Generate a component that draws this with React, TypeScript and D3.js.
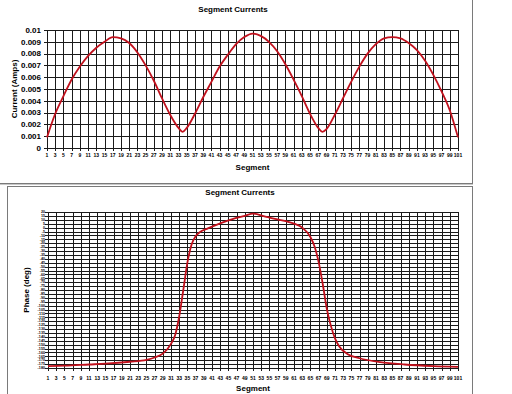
import React from 'react';
import * as d3 from 'd3';

const W = 512;
const H = 394;

// ---- data ----
const currentSegments = [1, 3, 5, 7, 9, 11, 13, 15, 17, 19, 21, 23, 25, 27, 29, 31, 33, 34, 35, 37, 39, 41, 43, 45, 47, 49, 51,
  53, 55, 57, 59, 61, 63, 65, 67, 68, 69, 71, 73, 75, 77, 79, 81, 83, 85, 87, 89, 91, 93, 95, 97, 99, 101];
const currentValues = [0.0009, 0.0029, 0.0044, 0.0058, 0.0069, 0.0078, 0.0085, 0.0090, 0.0094, 0.0093, 0.0089, 0.0081, 0.0070,
  0.0057, 0.0042, 0.0028, 0.0017, 0.00137, 0.0017, 0.0029, 0.0043, 0.0056, 0.0069, 0.0079, 0.0088, 0.0094, 0.0097,
  0.0095, 0.0090, 0.0082, 0.0071, 0.0058, 0.0044, 0.0029, 0.0017, 0.00137, 0.0016, 0.0028, 0.0042, 0.0056, 0.0069,
  0.0080, 0.0088, 0.0093, 0.0094, 0.0093, 0.0089, 0.0083, 0.0074, 0.0062, 0.0048, 0.0032, 0.0009];

const phaseSegments = [1, 5, 11, 15, 21, 25, 27, 29, 31, 32, 33, 34, 35, 36, 37, 38, 40, 43, 46, 49, 51,
  54, 57, 61, 63, 65, 66, 67, 68, 69, 70, 71, 72, 74, 77, 82, 88, 95, 101];
const phaseValues = [-177.5, -177, -175.5, -174.5, -172, -169.5, -166.5, -161.5, -149, -138, -114, -80, -45, -22, -11, -6, -1, 5.5,
  11, 15, 18, 14, 10.5, 5, 0, -12, -24, -44, -72, -104, -126, -142, -152, -162, -167.5, -172.5, -175.5, -177.5, -178.5];

const currentTicks = [0, 0.001, 0.002, 0.003, 0.004, 0.005, 0.006, 0.007, 0.008, 0.009, 0.01];
const currentTickLabels = ['0', '0.001', '0.002', '0.003', '0.004', '0.005', '0.006', '0.007', '0.008', '0.009', '0.01'];
const phaseTicks = [20, 15, 10, 5, 0, -5, -10, -15, -20, -25, -30, -35, -40, -45, -50, -55, -60, -65, -70, -75, -80,
  -85, -90, -95, -100, -105, -110, -115, -120, -125, -130, -135, -140, -145, -150, -155, -160, -165, -170, -175, -180];
const segmentTicks = [1, 3, 5, 7, 9, 11, 13, 15, 17, 19, 21, 23, 25, 27, 29, 31, 33, 35, 37, 39, 41, 43, 45, 47, 49, 51,
  53, 55, 57, 59, 61, 63, 65, 67, 69, 71, 73, 75, 77, 79, 81, 83, 85, 87, 89, 91, 93, 95, 97, 99, 101];

const FONT = 'Liberation Sans, Arial, sans-serif';
const GRID = '#1a1a1a';
const LINE = '#c0101c';

type PanelProps = {
  x0: number; x1: number; y0: number; y1: number;
  domain: [number, number];
  ticks: number[];
  labels: string[];
  yFont: number;
  yLabelX: number;
  segs: number[];
  vals: number[];
  title: string; titleX: number; titleY: number;
  yTitle: string; yTitleX: number;
  xLabelY: number; xTitleY: number;
};

function Panel(p: PanelProps) {
  const x = d3.scaleLinear().domain([1, 101]).range([p.x0, p.x1]);
  const y = d3.scaleLinear().domain(p.domain).range([p.y1, p.y0]);
  const line = d3.line<number>()
    .x((_, i) => x(p.segs[i]))
    .y((d) => y(d))
    .curve(d3.curveMonotoneX);
  const yMid = (p.y0 + p.y1) / 2;
  const xMid = (p.x0 + p.x1) / 2;
  return (
    <g fontFamily={FONT} fontWeight="bold" fill="#000">
      <text x={p.titleX} y={p.titleY} fontSize={8} textAnchor="middle">{p.title}</text>
      {p.ticks.map((t, i) => (
        <g key={'h' + i}>
          <line x1={p.x0 - 3} x2={p.x1} y1={Math.round(y(t)) + 0.5} y2={Math.round(y(t)) + 0.5} stroke={GRID} strokeWidth={1} />
          <text x={p.yLabelX} y={y(t)} dy="0.35em" fontSize={p.yFont} textAnchor="end">{p.labels[i]}</text>
        </g>
      ))}
      {segmentTicks.map((s) => (
        <g key={'v' + s}>
          <line x1={Math.round(x(s)) + 0.5} x2={Math.round(x(s)) + 0.5} y1={p.y0} y2={p.y1 + 3} stroke={GRID} strokeWidth={1} />
          <text x={x(s)} y={p.xLabelY} fontSize={5} textAnchor="middle">{s}</text>
        </g>
      ))}
      <path d={line(p.vals) || ''} fill="none" stroke={LINE} strokeWidth={1.8} strokeLinejoin="round" />
      <text x={xMid} y={p.xTitleY} fontSize={8} textAnchor="middle">Segment</text>
      <text transform={`translate(${p.yTitleX},${yMid}) rotate(-90)`} fontSize={8} textAnchor="middle">{p.yTitle}</text>
    </g>
  );
}

export default function App() {
  return (
    <svg width={W} height={H} style={{ position: 'absolute', left: 0, top: 0, background: '#fff' }}>
      <rect x={0} y={0} width={W} height={H} fill="#fff" />
      {/* top chart frame */}
      <line x1={0} x2={473} y1={183.5} y2={183.5} stroke="#7a7a7a" />
      <line x1={0} x2={473} y1={184.5} y2={184.5} stroke="#c8c8c8" />
      <line x1={472.5} x2={472.5} y1={0} y2={184} stroke="#7a7a7a" />
      {/* bottom chart frame */}
      <line x1={8} x2={473} y1={186.5} y2={186.5} stroke="#7a7a7a" />
      <line x1={7.5} x2={7.5} y1={186} y2={H} stroke="#7a7a7a" />
      <line x1={472.5} x2={472.5} y1={186} y2={H} stroke="#7a7a7a" />

      <Panel x0={47} x1={458} y0={30} y1={148} domain={[0, 0.01]} ticks={currentTicks} labels={currentTickLabels}
        yFont={8} yLabelX={41} segs={currentSegments} vals={currentValues}
        title="Segment Currents" titleX={233} titleY={12}
        yTitle="Current (Amps)" yTitleX={17} xLabelY={157} xTitleY={170} />

      <Panel x0={48} x1={458} y0={212} y1={368} domain={[-180, 20]} ticks={phaseTicks} labels={phaseTicks.map(String)}
        yFont={3.7} yLabelX={45} segs={phaseSegments} vals={phaseValues}
        title="Segment Currents" titleX={240} titleY={195}
        yTitle="Phase (deg)" yTitleX={29} xLabelY={379.5} xTitleY={391} />
    </svg>
  );
}
